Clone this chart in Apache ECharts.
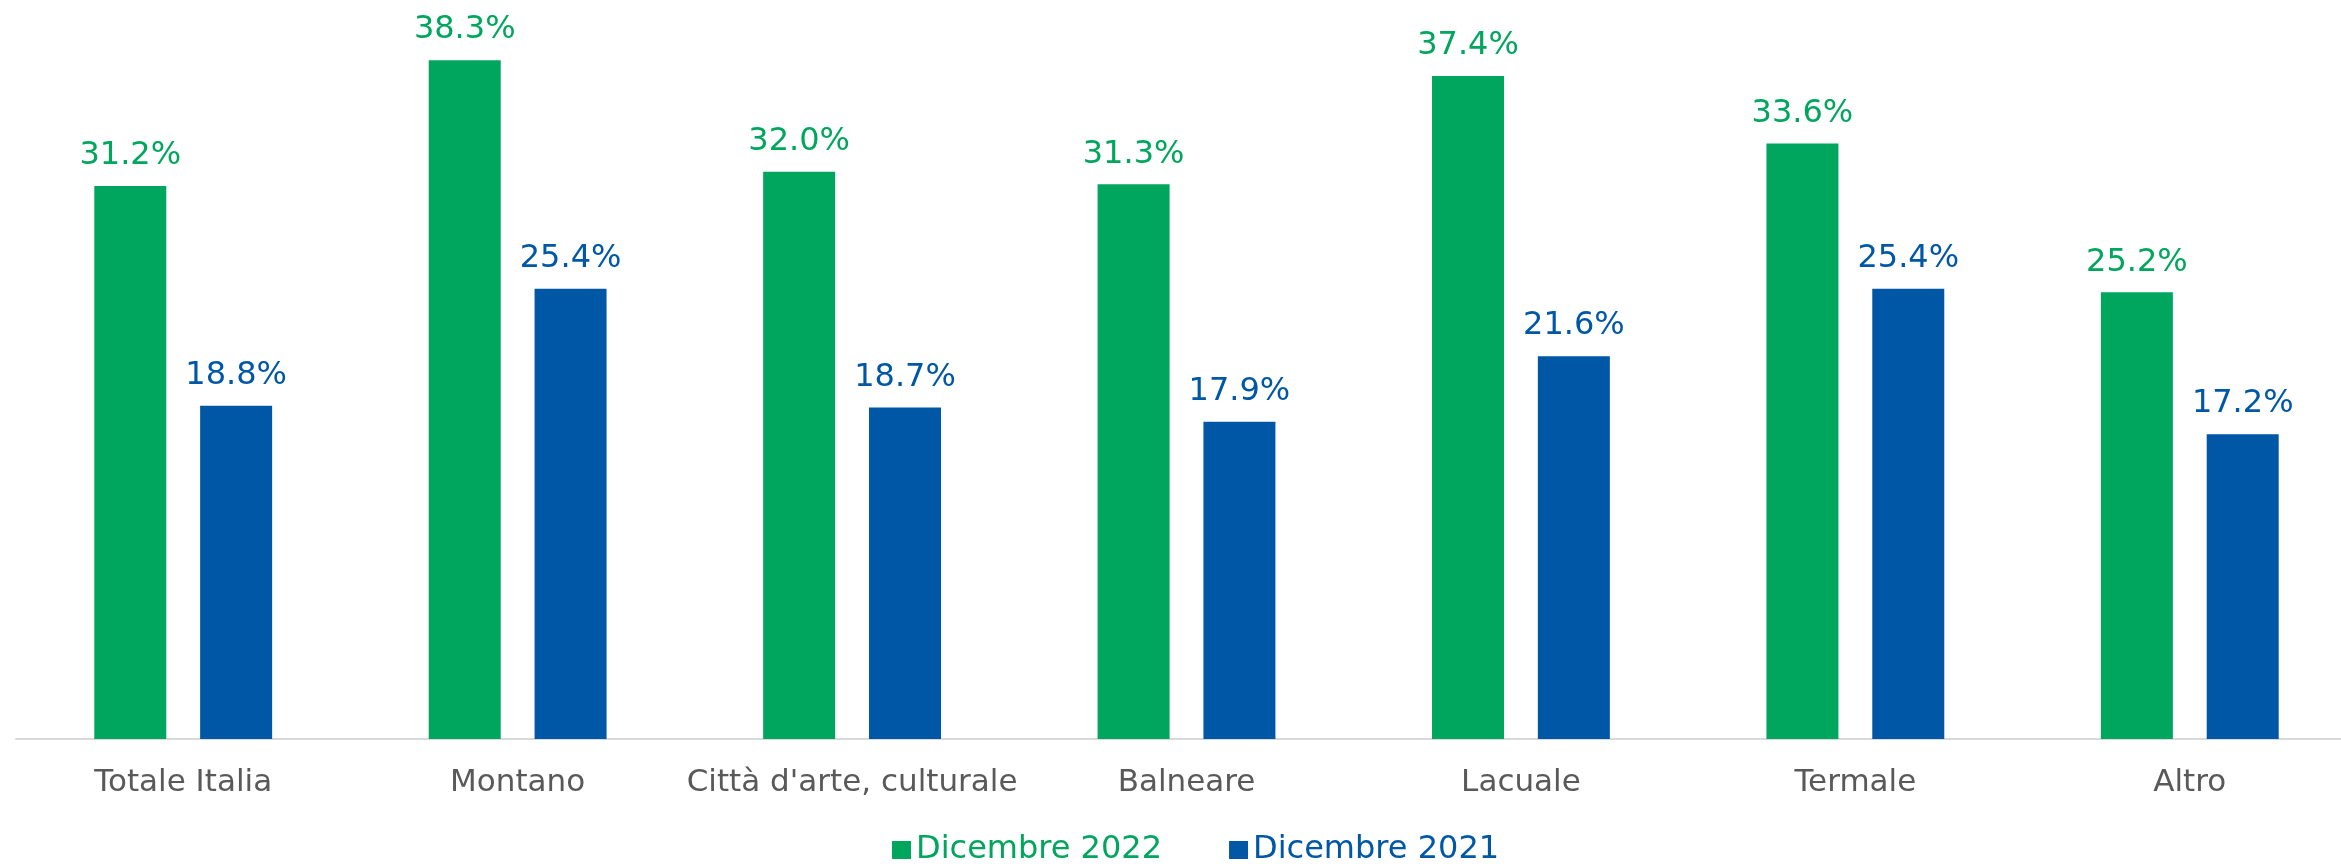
<!DOCTYPE html>
<html>
<head>
<meta charset="utf-8">
<script src="https://cdn.jsdelivr.net/npm/echarts@6/dist/echarts.min.js"></script>
<style>
html,body{margin:0;padding:0;background:#fff;overflow:hidden;width:2341px;height:864px;}
#chart{width:2360px;height:864px;}
</style>
</head>
<body>
<div id="chart"></div>
<script>
const categories = ["Totale Italia", "Montano", "Città d'arte, culturale", "Balneare", "Lacuale", "Termale", "Altro"];
const seriesNames = ["Dicembre 2022", "Dicembre 2021"];
const dic2022 = [31.2, 38.3, 32.0, 31.3, 37.4, 33.6, 25.2];
const dic2021 = [18.8, 25.4, 18.7, 17.9, 21.6, 25.4, 17.2];

const GREEN = '#00A65D';
const BLUE = '#0057A5';
const FONT = 'DejaVu Sans';

const chart = echarts.init(document.getElementById('chart'), null, {renderer: 'canvas'});

function labelCfg(color) {
  return {
    show: true,
    position: 'top',
    distance: 14,
    color: color,
    fontFamily: FONT,
    fontSize: 32,
    formatter: p => p.value.toFixed(1) + '%'
  };
}

chart.setOption({
  animation: false,
  backgroundColor: '#ffffff',
  grid: { left: 16, top: 30, right: 3, height: 709, containLabel: false },
  legend: {
    left: 887,
    top: 829,
    icon: 'rect',
    itemWidth: 19,
    itemHeight: 18,
    itemGap: 67,
    textStyle: { fontFamily: FONT, fontSize: 32, padding: [0, 0, 0, 0] },
    data: [
      { name: seriesNames[0], textStyle: { color: GREEN } },
      { name: seriesNames[1], textStyle: { color: BLUE } }
    ]
  },
  xAxis: {
    type: 'category',
    data: categories,
    axisLine: { show: true, lineStyle: { color: '#D9D9D9', width: 2 } },
    axisTick: { show: false },
    axisLabel: { color: '#595959', fontFamily: FONT, fontSize: 31, margin: 28, interval: 0 }
  },
  yAxis: {
    type: 'value',
    min: 0,
    max: 40,
    show: false,
    splitLine: { show: false }
  },
  series: [
    {
      name: seriesNames[0],
      type: 'bar',
      data: dic2022,
      barWidth: 72,
      barGap: '47%',
      itemStyle: { color: GREEN },
      label: labelCfg(GREEN)
    },
    {
      name: seriesNames[1],
      type: 'bar',
      data: dic2021,
      barWidth: 72,
      barGap: '47%',
      itemStyle: { color: BLUE },
      label: labelCfg(BLUE)
    }
  ]
});
</script>
</body>
</html>
